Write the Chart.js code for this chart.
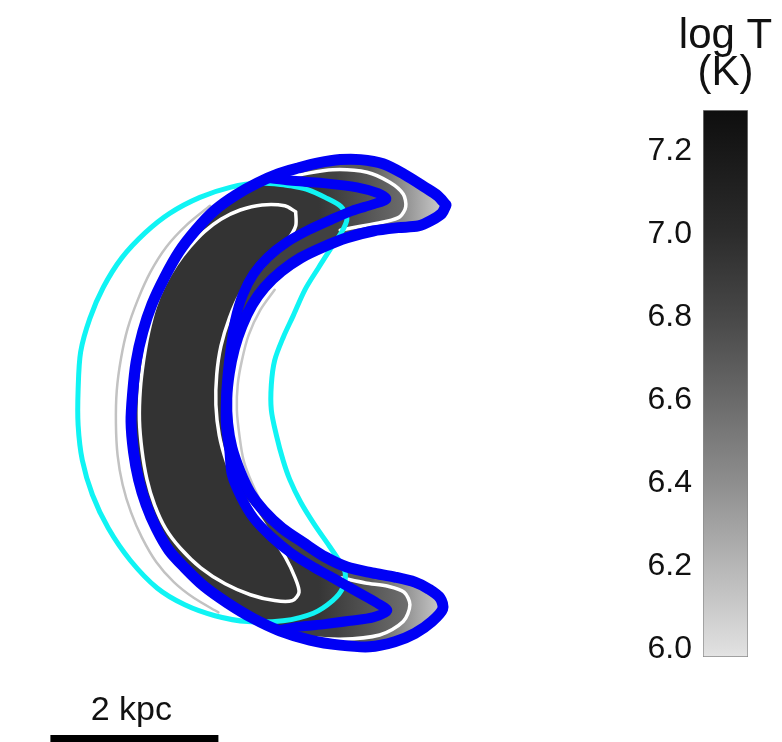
<!DOCTYPE html>
<html>
<head>
<meta charset="utf-8">
<title>log T map</title>
<script src="https://cdn.jsdelivr.net/npm/chart.js@4.4.1/dist/chart.umd.min.js"></script>
<style>
  html, body { margin: 0; padding: 0; background: #fff; overflow: hidden; }
  #wrap { position: relative; width: 782px; height: 742px; overflow: hidden; }
  #map { position: absolute; left: 0; top: 0; }
  #cbar { position: absolute; left: 600px; top: 0; }
</style>
</head>
<body>
<div id="wrap">
  <canvas id="map" width="588" height="756"></canvas>
  <canvas id="cbar" width="182" height="742"></canvas>
</div>
<script>
Chart.defaults.font.family = "'Liberation Sans', Arial, Helvetica, sans-serif";
Chart.defaults.animation = false;

// contour vertices in kpc, [x, y]
// outer blue contour, split into its edges
const blueArmTop = [[1.81,2.46],[1.71,2.57],[1.56,2.67],[1.32,2.82],[1.06,2.95],[0.79,3.00],[0.55,3.00],[0.29,2.96],[0.05,2.90],[-0.19,2.83]];
const blueLeftArc = [[-0.19,2.83],[-0.44,2.72],[-0.69,2.58],[-0.94,2.40],[-1.17,2.16],[-1.37,1.90],[-1.54,1.60],[-1.69,1.28],[-1.80,0.95],[-1.88,0.59],[-1.92,0.23],[-1.94,-0.12],[-1.91,-0.48],[-1.85,-0.81],[-1.76,-1.11],[-1.64,-1.39],[-1.49,-1.65],[-1.30,-1.86],[-1.07,-2.08],[-0.79,-2.28],[-0.49,-2.46],[-0.17,-2.61]];
const blueArmBottom = [[-0.17,-2.61],[0.19,-2.72],[0.55,-2.78],[0.90,-2.80],[1.20,-2.74],[1.44,-2.64],[1.64,-2.50],[1.77,-2.35],[1.74,-2.22],[1.60,-2.11],[1.44,-2.03],[1.20,-1.97],[0.93,-1.92],[0.63,-1.85]];
const blueInnerArc = [[0.63,-1.85],[0.37,-1.73],[0.11,-1.56],[-0.14,-1.39],[-0.36,-1.18],[-0.52,-0.97],[-0.64,-0.72],[-0.74,-0.43],[-0.79,-0.14],[-0.80,0.16],[-0.77,0.46],[-0.71,0.75],[-0.62,1.02],[-0.50,1.27],[-0.35,1.48],[-0.15,1.67],[0.08,1.83],[0.35,1.96],[0.63,2.07]];
const blueArmUnder = [[0.63,2.07],[0.94,2.15],[1.24,2.19],[1.48,2.21],[1.64,2.28],[1.76,2.36],[1.81,2.46]];

// inner blue contour (meets the outer one on the left arc)
const blueSmall = [[-0.31,2.78],[-0.05,2.75],[0.35,2.72],[0.75,2.67],[1.00,2.60],[1.10,2.53],[0.95,2.47],[0.69,2.39],[0.43,2.28],[0.17,2.16],[-0.08,2.02],[-0.31,1.84],[-0.48,1.64],[-0.61,1.39],[-0.70,1.09],[-0.75,0.77],[-0.79,0.44],[-0.81,0.14],[-0.81,-0.16],[-0.77,-0.46],[-0.74,-0.75],[-0.63,-1.02],[-0.48,-1.27],[-0.27,-1.49],[-0.04,-1.68],[0.23,-1.85],[0.50,-2.00],[0.76,-2.15],[0.99,-2.28],[1.11,-2.37],[0.94,-2.45],[0.67,-2.49],[0.37,-2.53],[0.07,-2.56],[-0.17,-2.60]];

// cyan contour
const cyanLoop = [[-0.05,2.69],[-0.40,2.72],[-0.76,2.67],[-1.12,2.55],[-1.48,2.36],[-1.77,2.13],[-2.05,1.83],[-2.27,1.48],[-2.43,1.11],[-2.54,0.71],[-2.57,0.26],[-2.57,-0.16],[-2.52,-0.58],[-2.40,-0.99],[-2.21,-1.39],[-1.95,-1.77],[-1.63,-2.10],[-1.30,-2.30],[-0.94,-2.43],[-0.55,-2.50],[-0.13,-2.49],[0.23,-2.40],[0.46,-2.25],[0.58,-2.10],[0.61,-1.92],[0.54,-1.78],[0.42,-1.60],[0.24,-1.34],[0.08,-1.08],[-0.05,-0.81],[-0.13,-0.58],[-0.21,-0.28],[-0.27,0.02],[-0.27,0.32],[-0.23,0.61],[-0.13,0.88],[-0.01,1.14],[0.13,1.45],[0.29,1.71],[0.45,1.96],[0.58,2.16],[0.63,2.30],[0.56,2.44],[0.37,2.55],[0.17,2.64],[-0.05,2.69]];

// white contours: hot core, and the arm edges near the tips
const whiteCore = [[0.02,2.38],[-0.11,2.45],[-0.38,2.46],[-0.64,2.40],[-0.87,2.29],[-1.07,2.14],[-1.24,1.96],[-1.40,1.75],[-1.54,1.51],[-1.65,1.25],[-1.73,0.95],[-1.79,0.61],[-1.83,0.26],[-1.84,-0.10],[-1.81,-0.46],[-1.75,-0.81],[-1.66,-1.11],[-1.53,-1.39],[-1.35,-1.63],[-1.11,-1.86],[-0.82,-2.05],[-0.52,-2.18],[-0.23,-2.25],[-0.02,-2.25],[0.06,-2.15],[0.01,-1.97],[-0.10,-1.74],[-0.26,-1.49],[-0.44,-1.22],[-0.67,-0.93],[-0.80,-0.61],[-0.89,-0.28],[-0.93,0.08],[-0.92,0.44],[-0.87,0.78],[-0.77,1.11],[-0.64,1.40],[-0.44,1.65],[-0.26,1.85],[-0.08,2.04],[0.02,2.21],[0.02,2.38]];
const whiteArmUpper = [[-0.14,2.78],[0.07,2.82],[0.46,2.88],[0.87,2.85],[1.14,2.73],[1.30,2.59],[1.33,2.44],[1.26,2.32],[1.08,2.26],[0.81,2.21],[0.55,2.16]];
const whiteArmLower = [[-0.14,-2.65],[0.07,-2.68],[0.55,-2.71],[1.02,-2.66],[1.30,-2.50],[1.38,-2.30],[1.31,-2.15],[1.12,-2.08],[0.85,-2.04],[0.57,-1.98]];

// faint grey shading rings
const haloOuter = [[-1.00,2.45],[-1.28,2.22],[-1.52,1.96],[-1.71,1.66],[-1.86,1.33],[-1.98,0.99],[-2.06,0.63],[-2.11,0.25],[-2.12,-0.14],[-2.10,-0.52],[-2.04,-0.87],[-1.94,-1.20],[-1.81,-1.50],[-1.64,-1.79],[-1.43,-2.03],[-1.19,-2.22],[-0.90,-2.39]];
const haloInner = [[-0.23,1.45],[-0.40,1.21],[-0.54,0.91],[-0.62,0.61],[-0.67,0.32],[-0.68,0.02],[-0.65,-0.28],[-0.60,-0.58],[-0.50,-0.85],[-0.37,-1.11],[-0.21,-1.31]];

// 2 kpc scale bar
const scaleBarX = [-2.9, -0.9];
const scaleBarY = -3.91;
const scaleBarLabel = '2 kpc';

// colour bar
const cbarRange = [5.98, 7.30];
const cbarTicks = [6.0, 6.2, 6.4, 6.6, 6.8, 7.0, 7.2];
const cbarShades = ['#dedede', '#b6b6b6', '#8e8e8e', '#6a6a6a', '#484848', '#2c2c2c', '#181818'];
const cbarTitle = ['log T', '(K)'];

function pts(list) {
  return list.map(p => ({x: p[0], y: p[1]}));
}
function join(...parts) {
  const out = [];
  parts.forEach(seg => seg.forEach(p => {
    const last = out[out.length - 1];
    if (!last || last[0] !== p[0] || last[1] !== p[1]) out.push(p);
  }));
  return out;
}
const rev = a => a.slice().reverse();

const blueOuter = join(blueArmTop, blueLeftArc, blueArmBottom, blueInnerArc, blueArmUnder);
const armRegion = join(whiteArmUpper, rev(blueInnerArc), rev(whiteArmLower), rev(blueLeftArc), [whiteArmUpper[0]]);
const bodyRegion = join(blueSmall, rev(blueLeftArc).slice(0, -1), [blueSmall[0]]);

function hGradient(from, to, x0, x1) {
  return (c) => {
    const chart = c.chart;
    if (!chart.chartArea) return from;
    const xs = chart.scales.x;
    const g = chart.ctx.createLinearGradient(xs.getPixelForValue(x0), 0, xs.getPixelForValue(x1), 0);
    g.addColorStop(0, from);
    g.addColorStop(1, to);
    return g;
  };
}

function area(list, color, order) {
  return {data: pts(list), backgroundColor: color, borderColor: 'transparent', borderWidth: 0,
          fill: 'shape', tension: 0.3, order: order};
}
function contour(list, color, width, order) {
  return {data: pts(list), borderColor: color, borderWidth: width, fill: false, tension: 0.3,
          borderJoinStyle: 'round', borderCapStyle: 'round', order: order};
}

const scaleBarText = {
  id: 'scaleBarText',
  afterDatasetsDraw(chart) {
    const {ctx, scales: {x, y}} = chart;
    ctx.save();
    ctx.font = "34px 'Liberation Sans', Arial, sans-serif";
    ctx.fillStyle = '#111';
    ctx.textAlign = 'center';
    ctx.textBaseline = 'alphabetic';
    ctx.fillText(scaleBarLabel, x.getPixelForValue((scaleBarX[0] + scaleBarX[1]) / 2) - 3, y.getPixelForValue(scaleBarY) - 20);
    ctx.restore();
  }
};

new Chart(document.getElementById('map'), {
  type: 'line',
  data: {
    datasets: [
      area(blueOuter, hGradient('#5a5a5a', '#d6d6d6', 0.9, 1.85), 40),
      area(armRegion, hGradient('#414141', '#6e6e6e', 0.5, 1.35), 39),
      area(bodyRegion, hGradient('#363636', '#5e5e5e', 0.3, 1.1), 38),
      area(whiteCore, '#333333', 37),
      contour(haloOuter, '#c2c2c2', 2.5, 30),
      contour(haloInner, '#c6c6c6', 2.5, 30),
      contour(whiteCore, '#ffffff', 3.5, 20),
      contour(whiteArmUpper, '#ffffff', 3.5, 20),
      contour(whiteArmLower, '#ffffff', 3.5, 20),
      contour(cyanLoop, '#10f4f4', 5, 15),
      contour(blueSmall, '#0000f5', 10, 12),
      contour(blueOuter, '#0000f5', 11, 11),
      {data: [{x: scaleBarX[0], y: scaleBarY}, {x: scaleBarX[1], y: scaleBarY}],
       borderColor: '#000', borderWidth: 10, borderCapStyle: 'butt', fill: false, order: 10}
    ]
  },
  options: {
    responsive: false,
    events: [],
    layout: {padding: 0},
    elements: {point: {radius: 0}},
    plugins: {legend: {display: false}, tooltip: {enabled: false}},
    scales: {
      x: {type: 'linear', min: -3.5, max: 3.5, display: false},
      y: {type: 'linear', min: -4.1, max: 4.9, display: false}
    }
  },
  plugins: [scaleBarText]
});

const cbarTitlePlugin = {
  id: 'cbarTitle',
  afterDraw(chart) {
    const {ctx, chartArea} = chart;
    const cx = (chartArea.left + chartArea.right) / 2;
    ctx.save();
    ctx.font = "42px 'Liberation Sans', Arial, sans-serif";
    ctx.fillStyle = '#111';
    ctx.textAlign = 'center';
    ctx.textBaseline = 'alphabetic';
    ctx.fillText(cbarTitle[0], cx, chartArea.top - 62);
    ctx.fillText(cbarTitle[1], cx, chartArea.top - 25);
    ctx.restore();
  }
};

new Chart(document.getElementById('cbar'), {
  type: 'bar',
  data: {
    labels: [''],
    datasets: [{
      data: [cbarRange],
      barPercentage: 1,
      categoryPercentage: 1,
      borderColor: '#8a8a8a',
      borderWidth: 1,
      borderSkipped: false,
      backgroundColor(c) {
        const chart = c.chart;
        if (!chart.chartArea) return '#777';
        const ys = chart.scales.y;
        const top = ys.getPixelForValue(cbarRange[1]);
        const bottom = ys.getPixelForValue(cbarRange[0]);
        const g = chart.ctx.createLinearGradient(0, top, 0, bottom);
        g.addColorStop(0, '#0e0e0e');
        cbarTicks.forEach((v, i) => g.addColorStop((ys.getPixelForValue(v) - top) / (bottom - top), cbarShades[i]));
        g.addColorStop(1, '#e4e4e4');
        return g;
      }
    }]
  },
  options: {
    responsive: false,
    events: [],
    layout: {padding: {top: 110, right: 34, bottom: 85, left: 0}},
    plugins: {legend: {display: false}, tooltip: {enabled: false}},
    scales: {
      x: {display: false},
      y: {
        min: cbarRange[0],
        max: cbarRange[1],
        afterBuildTicks(scale) { scale.ticks = cbarTicks.map(v => ({value: v})); },
        afterFit(scale) { scale.width = 103; },
        grid: {display: false, drawTicks: false},
        border: {display: false},
        ticks: {
          callback: v => Number(v).toFixed(1),
          color: '#111',
          padding: 11,
          font: {size: 32}
        }
      }
    }
  },
  plugins: [cbarTitlePlugin]
});
</script>
</body>
</html>
